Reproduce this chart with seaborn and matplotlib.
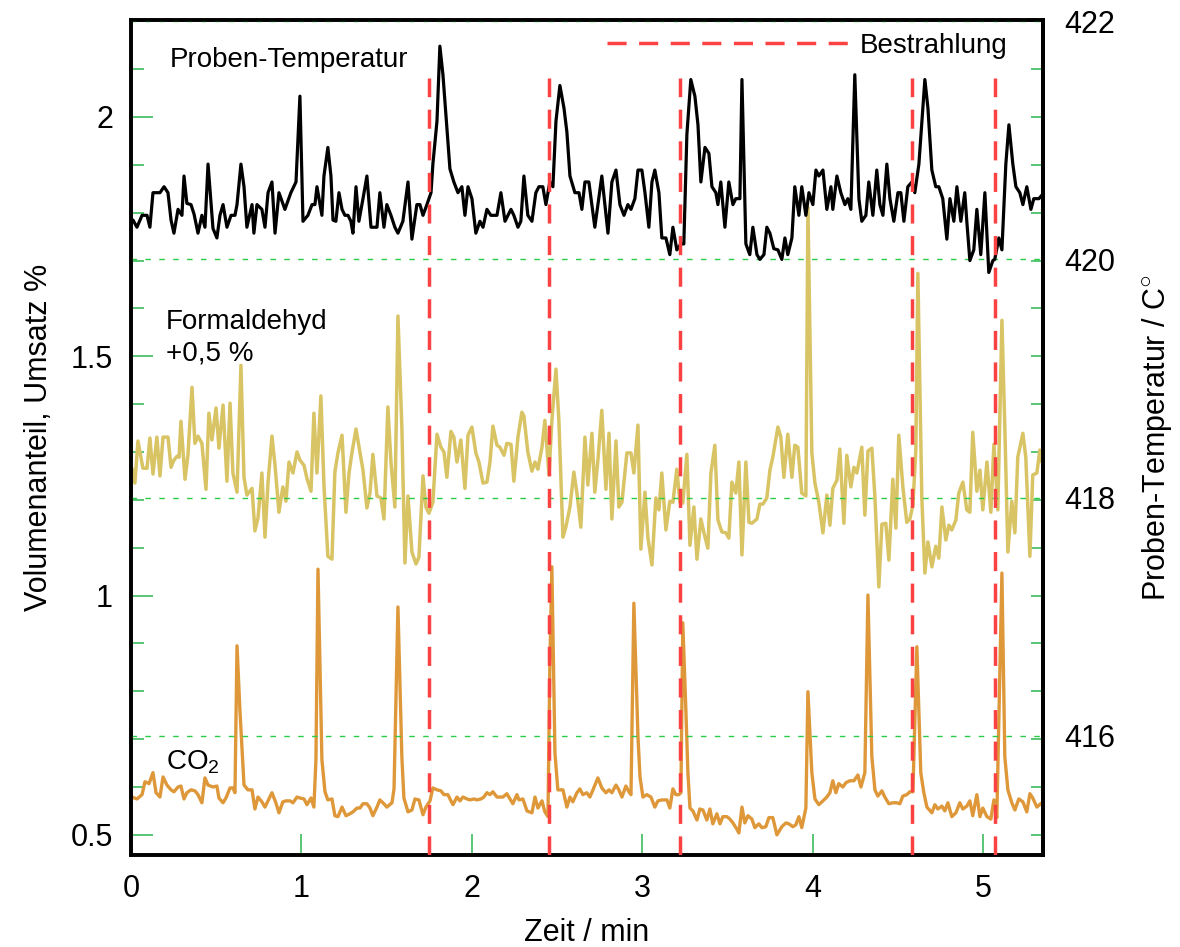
import matplotlib
matplotlib.use("Agg")
import matplotlib.pyplot as plt
from matplotlib.ticker import MultipleLocator, FuncFormatter, NullFormatter
import pandas as pd
import seaborn as sns

# Probentemperatur: (Zeit / min, Temperatur / °C)
temperatur = [
    (0.000, 420.30), (0.012, 420.33), (0.035, 420.27), (0.065, 420.37), (0.094, 420.37), (0.111, 420.27), (0.129, 420.56), (0.170, 420.56), (0.194, 420.61), (0.217, 420.56),
    (0.235, 420.33), (0.252, 420.22), (0.276, 420.42), (0.299, 420.37), (0.311, 420.70), (0.328, 420.47), (0.352, 420.46), (0.370, 420.38), (0.393, 420.22), (0.416, 420.37),
    (0.434, 420.27), (0.452, 420.80), (0.481, 420.26), (0.504, 420.18), (0.522, 420.37), (0.540, 420.46), (0.563, 420.27), (0.587, 420.37), (0.610, 420.37), (0.622, 420.46),
    (0.645, 420.80), (0.663, 420.61), (0.680, 420.27), (0.710, 420.46), (0.721, 420.22), (0.739, 420.46), (0.768, 420.42), (0.786, 420.27), (0.804, 420.56), (0.827, 420.65),
    (0.845, 420.22), (0.868, 420.56), (0.903, 420.42), (0.938, 420.56), (0.968, 420.65), (0.991, 421.37), (1.009, 420.32), (1.038, 420.37), (1.062, 420.46), (1.079, 420.46),
    (1.091, 420.61), (1.120, 420.37), (1.132, 420.70), (1.155, 420.94), (1.173, 420.70), (1.185, 420.33), (1.202, 420.32), (1.220, 420.56), (1.238, 420.42), (1.255, 420.37),
    (1.273, 420.37), (1.290, 420.32), (1.302, 420.22), (1.320, 420.61), (1.337, 420.32), (1.361, 420.51), (1.384, 420.70), (1.408, 420.27), (1.443, 420.27), (1.460, 420.56),
    (1.484, 420.27), (1.501, 420.46), (1.525, 420.37), (1.548, 420.27), (1.566, 420.22), (1.595, 420.32), (1.625, 420.65), (1.648, 420.17), (1.677, 420.46), (1.695, 420.46),
    (1.713, 420.37), (1.736, 420.46), (1.760, 420.56), (1.771, 420.80), (1.795, 421.16), (1.812, 421.79), (1.830, 421.55), (1.853, 421.10), (1.871, 420.76), (1.894, 420.65),
    (1.918, 420.56), (1.941, 420.61), (1.959, 420.37), (1.977, 420.61), (2.000, 420.51), (2.023, 420.22), (2.047, 420.32), (2.065, 420.27), (2.088, 420.42), (2.111, 420.37),
    (2.147, 420.37), (2.170, 420.56), (2.194, 420.32), (2.229, 420.42), (2.246, 420.37), (2.270, 420.27), (2.287, 420.32), (2.305, 420.70), (2.328, 420.37), (2.352, 420.32),
    (2.375, 420.56), (2.393, 420.61), (2.416, 420.61), (2.434, 420.46), (2.457, 420.65), (2.475, 420.61), (2.493, 421.16), (2.516, 421.46), (2.540, 421.27), (2.557, 421.07),
    (2.575, 420.70), (2.604, 420.56), (2.628, 420.56), (2.645, 420.42), (2.663, 420.65), (2.686, 420.65), (2.721, 420.27), (2.762, 420.70), (2.798, 420.22), (2.821, 420.65),
    (2.845, 420.75), (2.868, 420.46), (2.892, 420.37), (2.915, 420.46), (2.933, 420.42), (2.956, 420.51), (2.974, 420.75), (2.997, 420.75), (3.015, 420.56), (3.038, 420.27),
    (3.056, 420.65), (3.073, 420.75), (3.097, 420.56), (3.114, 420.18), (3.138, 420.18), (3.161, 420.04), (3.179, 420.27), (3.202, 420.08), (3.226, 420.13), (3.243, 420.13),
    (3.261, 421.05), (3.284, 421.51), (3.308, 421.37), (3.326, 421.13), (3.343, 420.65), (3.367, 420.94), (3.390, 420.89), (3.408, 420.61), (3.431, 420.56), (3.443, 420.46),
    (3.460, 420.65), (3.484, 420.27), (3.507, 420.65), (3.531, 420.46), (3.548, 420.51), (3.572, 420.51), (3.584, 421.51), (3.607, 420.13), (3.630, 420.04), (3.648, 420.27),
    (3.672, 420.04), (3.689, 420.00), (3.713, 420.04), (3.730, 420.27), (3.748, 420.22), (3.771, 420.09), (3.795, 420.08), (3.818, 420.00), (3.836, 420.18), (3.853, 420.04),
    (3.877, 420.18), (3.894, 420.61), (3.918, 420.37), (3.935, 420.61), (3.959, 420.37), (3.977, 420.56), (4.000, 420.46), (4.018, 420.75), (4.035, 420.70), (4.059, 420.75),
    (4.082, 420.42), (4.106, 420.61), (4.117, 420.42), (4.141, 420.70), (4.164, 420.56), (4.188, 420.46), (4.205, 420.51), (4.223, 420.42), (4.246, 421.55), (4.270, 420.51),
    (4.287, 420.32), (4.311, 420.37), (4.328, 420.65), (4.352, 420.37), (4.375, 420.75), (4.393, 420.46), (4.411, 420.37), (4.434, 420.80), (4.452, 420.51), (4.475, 420.32),
    (4.499, 420.56), (4.516, 420.56), (4.534, 420.32), (4.557, 420.61), (4.581, 420.65), (4.598, 420.56), (4.622, 420.80), (4.645, 421.27), (4.657, 421.51), (4.675, 421.27),
    (4.698, 420.75), (4.721, 420.61), (4.739, 420.61), (4.762, 420.51), (4.786, 420.17), (4.804, 420.51), (4.827, 420.32), (4.845, 420.61), (4.868, 420.32), (4.891, 420.56),
    (4.903, 420.32), (4.921, 419.99), (4.944, 420.08), (4.962, 420.42), (4.985, 420.04), (5.009, 420.56), (5.032, 419.89), (5.056, 419.99), (5.067, 420.00), (5.091, 420.18),
    (5.109, 420.08), (5.132, 420.80), (5.150, 421.13), (5.173, 420.80), (5.191, 420.61), (5.214, 420.56), (5.232, 420.46), (5.255, 420.61), (5.279, 420.42), (5.296, 420.51),
    (5.326, 420.51), (5.350, 420.55),
]

# Formaldehyd: (Zeit / min, Volumenanteil / %), dargestellt um +0,5 % verschoben
formaldehyd = [
    (0.006, 0.766), (0.023, 0.735), (0.041, 0.823), (0.070, 0.766), (0.094, 0.766), (0.111, 0.829), (0.129, 0.754), (0.152, 0.831), (0.170, 0.750), (0.188, 0.831),
    (0.217, 0.831), (0.235, 0.768), (0.252, 0.783), (0.270, 0.791), (0.282, 0.789), (0.293, 0.864), (0.317, 0.743), (0.334, 0.793), (0.358, 0.935), (0.375, 0.818),
    (0.393, 0.833), (0.416, 0.818), (0.440, 0.722), (0.457, 0.881), (0.475, 0.825), (0.499, 0.892), (0.516, 0.808), (0.540, 0.898), (0.563, 0.739), (0.581, 0.902),
    (0.598, 0.756), (0.622, 0.716), (0.645, 0.981), (0.663, 0.747), (0.680, 0.710), (0.710, 0.724), (0.727, 0.635), (0.745, 0.662), (0.768, 0.756), (0.786, 0.622),
    (0.804, 0.737), (0.827, 0.833), (0.845, 0.772), (0.868, 0.674), (0.891, 0.727), (0.909, 0.697), (0.927, 0.779), (0.950, 0.756), (0.974, 0.800), (0.991, 0.783),
    (1.015, 0.772), (1.032, 0.745), (1.056, 0.718), (1.073, 0.881), (1.091, 0.756), (1.114, 0.917), (1.132, 0.731), (1.155, 0.582), (1.179, 0.576), (1.196, 0.758),
    (1.214, 0.798), (1.238, 0.835), (1.261, 0.674), (1.279, 0.756), (1.296, 0.798), (1.320, 0.848), (1.343, 0.800), (1.361, 0.762), (1.384, 0.683), (1.402, 0.714),
    (1.419, 0.795), (1.443, 0.708), (1.466, 0.704), (1.484, 0.660), (1.507, 0.894), (1.525, 0.779), (1.548, 0.685), (1.566, 1.084), (1.589, 0.852), (1.607, 0.568),
    (1.625, 0.708), (1.648, 0.591), (1.672, 0.566), (1.689, 0.580), (1.713, 0.750), (1.730, 0.685), (1.748, 0.672), (1.771, 0.695), (1.795, 0.837), (1.818, 0.810),
    (1.836, 0.800), (1.853, 0.747), (1.877, 0.843), (1.894, 0.831), (1.912, 0.779), (1.935, 0.825), (1.959, 0.724), (1.977, 0.835), (2.000, 0.852), (2.023, 0.798),
    (2.041, 0.779), (2.065, 0.735), (2.088, 0.737), (2.106, 0.779), (2.123, 0.854), (2.147, 0.814), (2.164, 0.810), (2.188, 0.793), (2.205, 0.818), (2.229, 0.816),
    (2.246, 0.739), (2.270, 0.831), (2.293, 0.883), (2.305, 0.875), (2.328, 0.800), (2.352, 0.760), (2.370, 0.779), (2.387, 0.764), (2.411, 0.810), (2.428, 0.866),
    (2.452, 0.752), (2.469, 0.866), (2.493, 0.973), (2.510, 0.866), (2.534, 0.622), (2.551, 0.643), (2.575, 0.685), (2.598, 0.758), (2.616, 0.714), (2.639, 0.643),
    (2.663, 0.831), (2.680, 0.731), (2.704, 0.839), (2.721, 0.716), (2.739, 0.783), (2.762, 0.887), (2.786, 0.722), (2.804, 0.839), (2.821, 0.660), (2.845, 0.823),
    (2.862, 0.685), (2.880, 0.695), (2.909, 0.798), (2.933, 0.798), (2.950, 0.756), (2.974, 0.856), (2.991, 0.597), (3.015, 0.716), (3.032, 0.622), (3.056, 0.564),
    (3.079, 0.704), (3.097, 0.679), (3.114, 0.756), (3.138, 0.637), (3.161, 0.697), (3.179, 0.695), (3.202, 0.764), (3.220, 0.695), (3.237, 0.693), (3.261, 0.795),
    (3.279, 0.605), (3.302, 0.685), (3.320, 0.576), (3.343, 0.660), (3.361, 0.631), (3.384, 0.599), (3.402, 0.756), (3.425, 0.814), (3.443, 0.658), (3.466, 0.633),
    (3.490, 0.631), (3.507, 0.620), (3.525, 0.737), (3.548, 0.714), (3.566, 0.779), (3.584, 0.585), (3.607, 0.779), (3.625, 0.653), (3.642, 0.651), (3.672, 0.660),
    (3.689, 0.691), (3.707, 0.691), (3.730, 0.704), (3.748, 0.762), (3.765, 0.789), (3.795, 0.852), (3.812, 0.831), (3.830, 0.747), (3.853, 0.837), (3.877, 0.747),
    (3.894, 0.814), (3.912, 0.810), (3.935, 0.714), (3.959, 0.708), (3.971, 1.311), (3.994, 0.798), (4.012, 0.735), (4.035, 0.695), (4.059, 0.631), (4.082, 0.710),
    (4.100, 0.647), (4.117, 0.724), (4.141, 0.741), (4.158, 0.806), (4.182, 0.651), (4.199, 0.793), (4.223, 0.727), (4.241, 0.768), (4.258, 0.756), (4.287, 0.810),
    (4.305, 0.668), (4.323, 0.802), (4.346, 0.808), (4.364, 0.706), (4.387, 0.518), (4.405, 0.649), (4.428, 0.651), (4.446, 0.574), (4.469, 0.743), (4.487, 0.641),
    (4.504, 0.835), (4.528, 0.727), (4.551, 0.653), (4.569, 0.660), (4.587, 0.689), (4.604, 0.804), (4.616, 1.173), (4.639, 0.706), (4.657, 0.547), (4.675, 0.612),
    (4.698, 0.560), (4.721, 0.603), (4.739, 0.578), (4.757, 0.685), (4.780, 0.616), (4.798, 0.647), (4.815, 0.637), (4.839, 0.658), (4.856, 0.714), (4.880, 0.737),
    (4.903, 0.679), (4.921, 0.674), (4.938, 0.841), (4.962, 0.718), (4.980, 0.762), (4.997, 0.679), (5.021, 0.779), (5.044, 0.674), (5.062, 0.816), (5.085, 0.679),
    (5.109, 1.075), (5.126, 0.852), (5.144, 0.591), (5.167, 0.697), (5.185, 0.631), (5.202, 0.789), (5.232, 0.839), (5.249, 0.789), (5.273, 0.582), (5.290, 0.752),
    (5.314, 0.756), (5.331, 0.804), (5.343, 0.779),
]
formaldehyd_offset = 0.5

# CO2: (Zeit / min, Volumenanteil / %)
co2 = [
    (0.006, 0.579), (0.035, 0.575), (0.065, 0.584), (0.082, 0.611), (0.106, 0.607), (0.129, 0.630), (0.147, 0.588), (0.170, 0.579), (0.188, 0.621), (0.211, 0.604),
    (0.235, 0.594), (0.252, 0.590), (0.276, 0.600), (0.293, 0.602), (0.311, 0.575), (0.328, 0.588), (0.352, 0.594), (0.375, 0.592), (0.393, 0.584), (0.416, 0.567),
    (0.434, 0.619), (0.452, 0.604), (0.481, 0.600), (0.504, 0.602), (0.516, 0.577), (0.540, 0.567), (0.557, 0.577), (0.581, 0.598), (0.598, 0.598), (0.610, 0.588),
    (0.622, 0.895), (0.639, 0.761), (0.663, 0.604), (0.686, 0.594), (0.710, 0.594), (0.727, 0.554), (0.745, 0.579), (0.768, 0.569), (0.786, 0.558), (0.804, 0.571),
    (0.827, 0.588), (0.850, 0.567), (0.868, 0.546), (0.891, 0.569), (0.909, 0.571), (0.933, 0.571), (0.950, 0.567), (0.974, 0.579), (0.991, 0.577), (1.015, 0.575),
    (1.032, 0.563), (1.056, 0.577), (1.073, 0.558), (1.085, 0.657), (1.097, 1.055), (1.120, 0.657), (1.138, 0.590), (1.155, 0.573), (1.179, 0.575), (1.196, 0.540),
    (1.214, 0.538), (1.238, 0.558), (1.261, 0.540), (1.284, 0.544), (1.302, 0.548), (1.326, 0.556), (1.343, 0.556), (1.361, 0.565), (1.384, 0.565), (1.402, 0.556),
    (1.419, 0.540), (1.443, 0.558), (1.460, 0.573), (1.478, 0.567), (1.501, 0.558), (1.531, 0.567), (1.543, 0.596), (1.566, 0.976), (1.589, 0.663), (1.601, 0.577),
    (1.625, 0.548), (1.648, 0.552), (1.666, 0.575), (1.689, 0.573), (1.713, 0.542), (1.730, 0.558), (1.754, 0.571), (1.771, 0.598), (1.795, 0.594), (1.818, 0.592),
    (1.836, 0.584), (1.859, 0.584), (1.877, 0.571), (1.889, 0.563), (1.912, 0.579), (1.930, 0.571), (1.947, 0.579), (1.971, 0.575), (1.988, 0.573), (2.012, 0.575),
    (2.029, 0.573), (2.053, 0.575), (2.070, 0.579), (2.088, 0.588), (2.106, 0.584), (2.123, 0.590), (2.147, 0.579), (2.164, 0.579), (2.182, 0.579), (2.205, 0.586),
    (2.223, 0.575), (2.240, 0.565), (2.264, 0.584), (2.276, 0.573), (2.299, 0.575), (2.323, 0.550), (2.352, 0.546), (2.370, 0.579), (2.387, 0.556), (2.411, 0.571),
    (2.428, 0.548), (2.446, 0.538), (2.457, 0.851), (2.469, 1.060), (2.487, 0.671), (2.504, 0.594), (2.534, 0.594), (2.557, 0.558), (2.575, 0.579), (2.592, 0.569),
    (2.616, 0.588), (2.633, 0.596), (2.651, 0.584), (2.674, 0.588), (2.692, 0.579), (2.710, 0.594), (2.739, 0.619), (2.762, 0.598), (2.786, 0.588), (2.804, 0.594),
    (2.821, 0.588), (2.845, 0.604), (2.862, 0.594), (2.880, 0.579), (2.903, 0.602), (2.921, 0.590), (2.933, 0.584), (2.950, 0.984), (2.974, 0.705), (2.986, 0.621),
    (3.003, 0.579), (3.026, 0.584), (3.050, 0.579), (3.073, 0.558), (3.091, 0.571), (3.114, 0.573), (3.144, 0.573), (3.161, 0.556), (3.179, 0.596), (3.196, 0.584),
    (3.214, 0.584), (3.226, 0.588), (3.237, 0.943), (3.255, 0.761), (3.267, 0.630), (3.279, 0.556), (3.296, 0.550), (3.320, 0.531), (3.337, 0.554), (3.355, 0.552),
    (3.378, 0.531), (3.396, 0.554), (3.413, 0.523), (3.437, 0.544), (3.455, 0.523), (3.472, 0.538), (3.496, 0.538), (3.513, 0.533), (3.531, 0.525), (3.554, 0.512),
    (3.566, 0.504), (3.584, 0.558), (3.601, 0.525), (3.619, 0.540), (3.642, 0.533), (3.660, 0.515), (3.683, 0.523), (3.701, 0.515), (3.724, 0.517), (3.742, 0.536),
    (3.765, 0.536), (3.789, 0.500), (3.818, 0.517), (3.842, 0.525), (3.859, 0.523), (3.883, 0.517), (3.900, 0.521), (3.918, 0.538), (3.935, 0.515), (3.959, 0.556),
    (3.971, 0.799), (3.994, 0.630), (4.012, 0.575), (4.035, 0.563), (4.059, 0.571), (4.082, 0.579), (4.100, 0.588), (4.117, 0.613), (4.135, 0.588), (4.152, 0.607),
    (4.176, 0.600), (4.194, 0.609), (4.217, 0.613), (4.241, 0.613), (4.264, 0.625), (4.282, 0.600), (4.305, 0.630), (4.323, 1.001), (4.346, 0.663), (4.364, 0.594),
    (4.381, 0.581), (4.405, 0.592), (4.422, 0.579), (4.446, 0.565), (4.469, 0.567), (4.493, 0.567), (4.510, 0.565), (4.528, 0.581), (4.551, 0.584), (4.569, 0.590),
    (4.587, 0.590), (4.610, 0.893), (4.633, 0.630), (4.651, 0.588), (4.669, 0.558), (4.698, 0.546), (4.716, 0.563), (4.733, 0.554), (4.757, 0.560), (4.774, 0.550),
    (4.792, 0.567), (4.815, 0.538), (4.839, 0.546), (4.862, 0.567), (4.880, 0.554), (4.903, 0.560), (4.921, 0.571), (4.938, 0.540), (4.962, 0.584), (4.980, 0.538),
    (4.997, 0.556), (5.021, 0.538), (5.044, 0.533), (5.062, 0.573), (5.079, 0.536), (5.109, 1.047), (5.126, 0.663), (5.144, 0.594), (5.167, 0.567), (5.185, 0.552),
    (5.208, 0.575), (5.232, 0.569), (5.255, 0.548), (5.273, 0.586), (5.290, 0.577), (5.314, 0.558), (5.343, 0.567),
]

# Beginn der Bestrahlungsphasen (min)
bestrahlung_t = [1.75, 2.45, 3.22, 4.58, 5.07]

x_ticks = [0, 1, 2, 3, 4, 5]
left_major = 0.5
left_minor = 0.1
right_ticks = [416, 418, 420, 422]

BLACK = "#000000"
YELLOW = "#d9c465"
ORANGE = "#de983a"
RED = "#fb4242"
GREEN_TICK = "#3dbb5e"
GREEN_GRID = "#2ccc4a"

sns.set_style("white")
plt.rcParams["font.family"] = ["Liberation Sans", "DejaVu Sans"]
plt.rcParams["mathtext.fontset"] = "custom"
plt.rcParams["mathtext.rm"] = "Liberation Sans"
plt.rcParams["mathtext.it"] = "Liberation Sans:italic"
plt.rcParams["mathtext.default"] = "regular"
plt.rcParams["text.color"] = BLACK
plt.rcParams["axes.labelcolor"] = BLACK
plt.rcParams["xtick.labelcolor"] = BLACK
plt.rcParams["ytick.labelcolor"] = BLACK

df_temp = pd.DataFrame(temperatur, columns=["t", "T"])
df_hcho = pd.DataFrame(formaldehyd, columns=["t", "v"])
df_hcho["v"] = df_hcho["v"] + formaldehyd_offset
df_co2 = pd.DataFrame(co2, columns=["t", "v"])

fig = plt.figure(figsize=(11.8, 9.47), dpi=100)
ax = fig.add_axes([0.1110, 0.0972, 0.7729, 0.8817])
ax2 = ax.twinx()

sns.lineplot(data=df_hcho, x="t", y="v", ax=ax, color=YELLOW, linewidth=2.5,
             errorbar=None, estimator=None)
sns.lineplot(data=df_co2, x="t", y="v", ax=ax, color=ORANGE, linewidth=2.4,
             errorbar=None, estimator=None)
sns.lineplot(data=df_temp, x="t", y="T", ax=ax2, color=BLACK, linewidth=2.3,
             errorbar=None, estimator=None)

# Bestrahlungsmarken über alle Kurven
vl = ax2.vlines(bestrahlung_t, 0, 0.93, transform=ax2.get_xaxis_transform(),
                colors=RED, linewidth=2.5, linestyles=(0, (5.5, 3.6)),
                label="Bestrahlung", zorder=5)

ax.set_xlim(0, 5.35)
ax.set_ylim(0.458, 2.2026)
ax2.set_ylim(415.0, 422.01)

ax.set_xticks(x_ticks)
ax.yaxis.set_major_locator(MultipleLocator(left_major))
ax.yaxis.set_minor_locator(MultipleLocator(left_minor))
ax.yaxis.set_major_formatter(FuncFormatter(lambda v, p: f"{v:g}"))
ax2.set_yticks(right_ticks)

ax.tick_params(axis="y", which="major", direction="in", length=16, width=1.2,
               color=GREEN_TICK, left=True, right=False, labelsize=22, pad=13)
ax.tick_params(axis="y", which="minor", direction="in", length=9, width=1.2,
               color=GREEN_TICK, left=True, right=False)
ax.tick_params(axis="x", which="major", direction="in", length=15, width=1.2,
               color=GREEN_TICK, bottom=True, top=False, labelsize=22, pad=14)
ax2.tick_params(axis="y", length=0, labelsize=22, pad=15)

# kurze Teilstriche der linken Skala auch am rechten Rand
sec = ax.secondary_yaxis("right")
sec.yaxis.set_major_locator(MultipleLocator(left_minor))
sec.yaxis.set_major_formatter(NullFormatter())
sec.tick_params(axis="y", direction="in", length=9, width=1.2, color=GREEN_TICK)
sec.spines["right"].set_linewidth(2.6)
sec.spines["right"].set_color(BLACK)

ax.grid(False)
ax2.grid(axis="y", color=GREEN_GRID, linestyle=(0, (4, 6)), linewidth=1.0)

for a in (ax, ax2):
    for s in a.spines.values():
        s.set_color(BLACK)
        s.set_linewidth(2.6)
        s.set_visible(True)

ax.set_xlabel("Zeit / min", fontsize=22, labelpad=10)
ax.set_ylabel("Volumenanteil, Umsatz %", fontsize=22, labelpad=12)
ax2.set_ylabel("Proben-Temperatur / C$^{\u25CB}$", fontsize=22, labelpad=18)

ax.text(0.043, 0.952, "Proben-Temperatur", transform=ax.transAxes,
        fontsize=20, ha="left", va="center")
ax.text(0.038, 0.638, "Formaldehyd", transform=ax.transAxes,
        fontsize=20, ha="left", va="center")
ax.text(0.038, 0.601, "+0,5 %", transform=ax.transAxes,
        fontsize=20, ha="left", va="center")
ax.text(0.038, 0.111, "CO$_2$", transform=ax.transAxes,
        fontsize=20, ha="left", va="center")

ax2.legend(handles=[vl], labels=["Bestrahlung"], loc="center right",
           bbox_to_anchor=(0.9616, 0.969), frameon=False, fontsize=20,
           handlelength=8.7, handletextpad=0.43, borderpad=0, borderaxespad=0)

fig.savefig("out.png", dpi=100)
